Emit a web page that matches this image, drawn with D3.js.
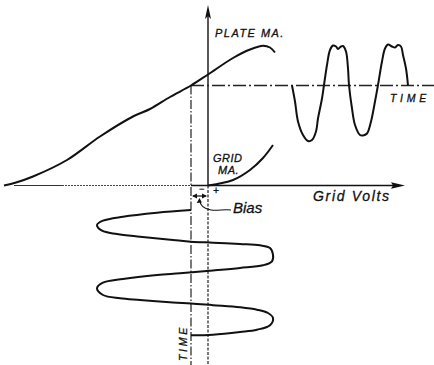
<!DOCTYPE html>
<html>
<head>
<meta charset="utf-8">
<script src="https://cdn.jsdelivr.net/npm/d3@7"></script>
<style>
  body { margin: 0; background: #fff; }
  text { font-family: "Liberation Sans", Arial, sans-serif; font-style: italic; fill: #111; stroke: #111; stroke-width: 0.3; }
</style>
</head>
<body>
<div id="chart"></div>
<script>
const W = 434, H = 365;

// grid volts / plate mA characteristic, [volts, mA]
const plateCurve = [[-20.4, 0], [-19.2, 0.3], [-17.5, 0.9], [-14.1, 2.55], [-10.8, 4.9], [-7.5, 6.9],
  [-5.8, 7.65], [-3.8, 8.85], [-1.7, 10.0], [0, 11.1], [2.5, 12.75], [4.2, 13.6], [5.5, 13.98],
  [6.2, 13.8], [6.7, 13.3]];
// grid current, [volts, mA]
const gridCurve = [[0, 0], [2.5, 0.55], [4.2, 1.55], [5.5, 2.75], [6.5, 4.05]];
const bias = -1.7;
const opPoint = 10.0;
// input signal on grid, [volts, time]
const inputWave = [[-1.7, 0], [-5.1, 0.27], [-8.5, 0.67], [-10.5, 1.07], [-11.1, 1.5], [-10.6, 2.07],
  [-9.1, 2.4], [-6.8, 2.67], [-3.5, 3.0], [-1.7, 3.17], [0.5, 3.27], [3.2, 3.4], [5.2, 3.53],
  [6.2, 3.8], [6.5, 4.47], [6.4, 5.13], [5.5, 5.53], [3.2, 5.8], [0.5, 6.05], [-2.8, 6.33],
  [-5.1, 6.5], [-8.5, 6.9], [-10.5, 7.27], [-11.1, 7.83], [-10.5, 8.5], [-8.8, 8.83], [-6.8, 9.0],
  [-3.5, 9.25], [-1.7, 9.35], [0.5, 9.52], [3.2, 9.73], [4.9, 9.97], [6.0, 10.3], [6.5, 10.8],
  [6.2, 11.53], [4.9, 11.97], [3.2, 12.2], [0.5, 12.47], [-1.7, 12.53]];
// plate current output, [time, mA]
const outputWave = [[0, 10.0], [0.3, 8.4], [0.6, 6.4], [1.1, 5.05], [1.6, 4.45], [2.0, 4.55],
  [2.4, 5.4], [2.6, 6.7], [3.0, 8.7], [3.2, 10.05], [3.5, 12.05], [3.8, 13.55], [4.1, 14.0],
  [4.4, 13.9], [4.6, 13.65], [4.9, 13.9], [5.1, 13.95], [5.4, 13.4], [5.6, 11.7], [5.7, 10.05],
  [6.0, 7.7], [6.3, 6.05], [6.8, 5.05], [7.1, 5.0], [7.5, 5.2], [7.9, 6.4], [8.3, 8.4],
  [8.6, 10.05], [9.0, 12.4], [9.3, 13.7], [9.6, 14.1], [10.0, 13.9], [10.3, 13.8], [10.6, 14.05],
  [10.9, 13.9], [11.1, 13.05], [11.4, 11.7], [11.6, 10.0]];

const svg = d3.select("#chart").append("svg")
    .attr("width", W)
    .attr("height", H);

const x = d3.scaleLinear().domain([-20, 20]).range([8, 408]);
const y = d3.scaleLinear().domain([0, 14]).range([185.5, 45.5]);
const tIn = d3.scaleLinear().domain([0, 12.6]).range([210, 336]);
const tOut = d3.scaleLinear().domain([0, 11.6]).range([292, 408]);

const x0 = x(0), y0 = y(0);

// axes
svg.append("line").attr("x1", 14).attr("x2", 62).attr("y1", y0).attr("y2", y0)
    .attr("stroke", "#333").attr("stroke-width", 1.1);
svg.append("line").attr("x1", 62).attr("x2", x(bias)).attr("y1", y0).attr("y2", y0)
    .attr("stroke", "#444").attr("stroke-width", 1).attr("stroke-dasharray", "2,1");
svg.append("line").attr("x1", x(bias)).attr("x2", 398).attr("y1", y0).attr("y2", y0)
    .attr("stroke", "#111").attr("stroke-width", 1.4);
svg.append("path").attr("d", `M405,${y0} L391,${y0 - 3.2} L393,${y0} L391,${y0 + 3.2}Z`).attr("fill", "#111");

svg.append("line").attr("x1", x0).attr("x2", x0).attr("y1", 14).attr("y2", y0)
    .attr("stroke", "#111").attr("stroke-width", 1.4);
svg.append("line").attr("x1", x0).attr("x2", x0).attr("y1", y0).attr("y2", H)
    .attr("stroke", "#222").attr("stroke-width", 1.2).attr("stroke-dasharray", "3,1.5");
svg.append("path").attr("d", `M${x0},5 L${x0 - 3},19 L${x0},16 L${x0 + 3},19Z`).attr("fill", "#111");

// bias line and operating point line
svg.append("line").attr("x1", x(bias)).attr("x2", x(bias)).attr("y1", y(opPoint)).attr("y2", H)
    .attr("stroke", "#222").attr("stroke-width", 1.2).attr("stroke-dasharray", "9,2,1.5,2");
svg.append("line").attr("x1", x(bias)).attr("x2", W).attr("y1", y(opPoint)).attr("y2", y(opPoint))
    .attr("stroke", "#222").attr("stroke-width", 1.3).attr("stroke-dasharray", "13,3,2,3");

const curve = d3.curveCatmullRom.alpha(0.5);

svg.append("path")
    .datum(plateCurve)
    .attr("d", d3.line().x(d => x(d[0])).y(d => y(d[1])).curve(curve))
    .attr("fill", "none").attr("stroke", "#111").attr("stroke-width", 2);

svg.append("path")
    .datum(gridCurve)
    .attr("d", d3.line().x(d => x(d[0])).y(d => y(d[1])).curve(curve))
    .attr("fill", "none").attr("stroke", "#111").attr("stroke-width", 2);

svg.append("path")
    .datum(inputWave)
    .attr("d", d3.line().x(d => x(d[0])).y(d => tIn(d[1])).curve(curve))
    .attr("fill", "none").attr("stroke", "#111").attr("stroke-width", 2);

svg.append("path")
    .datum(outputWave)
    .attr("d", d3.line().x(d => tOut(d[0])).y(d => y(d[1])).curve(curve))
    .attr("fill", "none").attr("stroke", "#111").attr("stroke-width", 2);

// bias double arrow
const ya = 196;
svg.append("line").attr("x1", x(bias) + 2).attr("x2", x0 - 2).attr("y1", ya).attr("y2", ya)
    .attr("stroke", "#111").attr("stroke-width", 1.2);
svg.append("path").attr("d", `M${x(bias) + 1},${ya} l5,-2.5 l0,5Z M${x0 - 1},${ya} l-5,-2.5 l0,5Z`).attr("fill", "#111");
svg.append("text").attr("x", 199).attr("y", 192).attr("font-size", 9).text("−");
svg.append("text").attr("x", 213).attr("y", 194).attr("font-size", 10).attr("font-style", "normal").text("+");

// bias pointer
svg.append("path")
    .attr("d", "M231,210 C224,209 218,211 211,210 C204,209 200,205 200,201")
    .attr("fill", "none").attr("stroke", "#111").attr("stroke-width", 1.2);
svg.append("path").attr("d", "M199.5,198 l-2.8,5 l5.2,-0.6Z").attr("fill", "#111");

// labels
svg.append("text").attr("x", 215).attr("y", 37).attr("font-size", 11).attr("letter-spacing", 0.6)
    .attr("textLength", 69).text("PLATE MA.");
svg.append("text").attr("x", 213).attr("y", 162).attr("font-size", 11).attr("letter-spacing", 0.5).text("GRID");
svg.append("text").attr("x", 218).attr("y", 174).attr("font-size", 11).attr("letter-spacing", 0.5).text("MA.");
svg.append("text").attr("x", 313).attr("y", 201).attr("font-size", 14)
    .attr("textLength", 76).text("Grid Volts");
svg.append("text").attr("x", 233).attr("y", 213).attr("font-size", 15).text("Bias");
svg.append("text").attr("x", 390).attr("y", 102).attr("font-size", 10.5).attr("letter-spacing", 0.8)
    .attr("textLength", 37).text("TIME");
svg.append("text").attr("transform", "translate(187,361) rotate(-90)").attr("font-size", 10.5)
    .attr("letter-spacing", 0.8).attr("textLength", 34).text("TIME");
</script>
</body>
</html>
